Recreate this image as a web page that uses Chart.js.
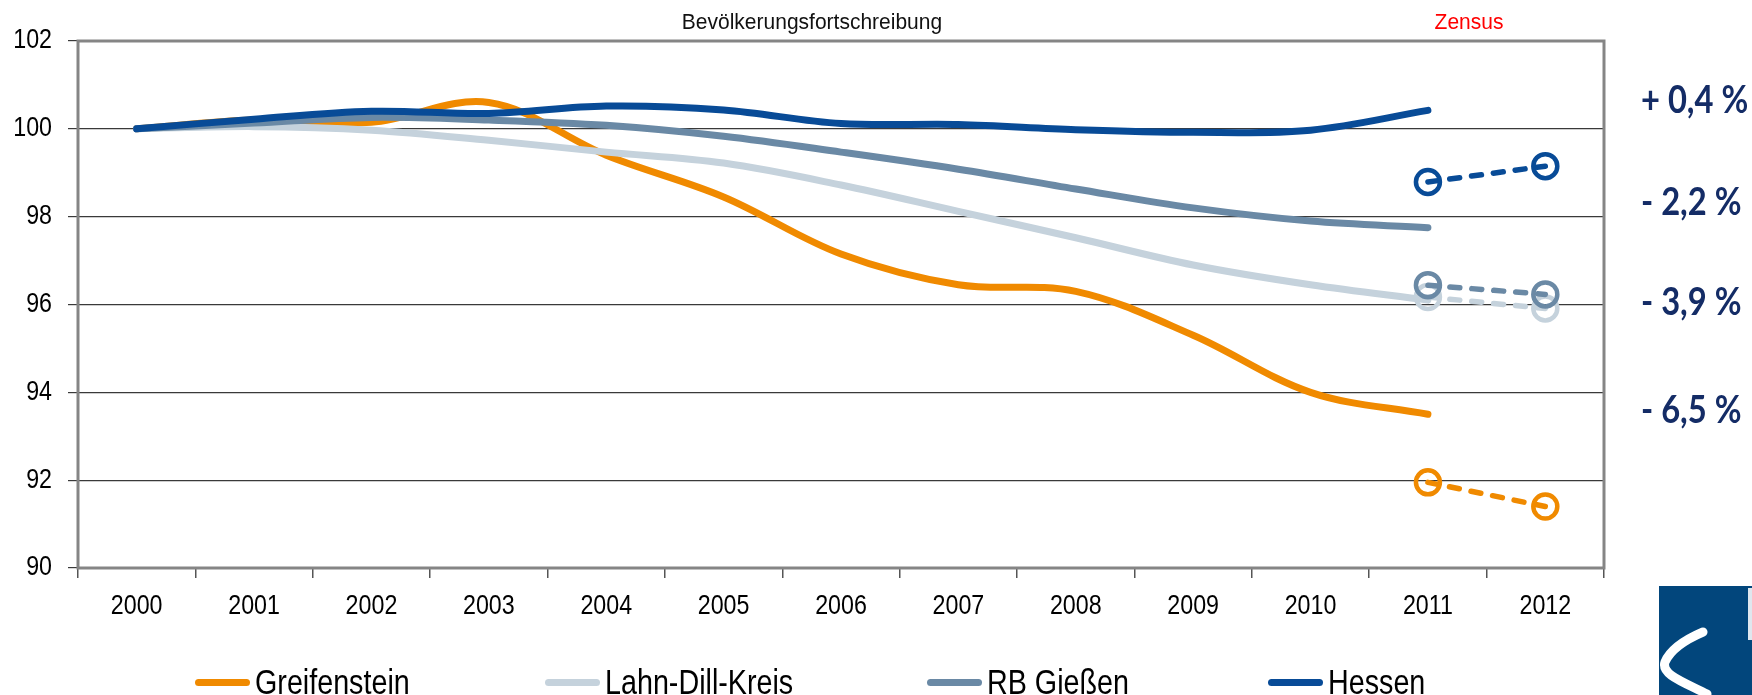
<!DOCTYPE html>
<html>
<head>
<meta charset="utf-8">
<script src="https://cdn.jsdelivr.net/npm/chart.js@4.4.1/dist/chart.umd.min.js"></script>
<style>
  html, body { margin: 0; padding: 0; background: #fff; }
  #wrap { position: relative; width: 1752px; height: 695px; overflow: hidden; font-family: 'Liberation Sans', Arial, sans-serif; }
  #chart { position: absolute; left: 0; top: 0; }
  .note { position: absolute; top: 9px; font-size: 21px; line-height: 24px; transform: translateX(-50%) scaleY(1.08); white-space: nowrap; color: #111; }
  .pct { position: absolute; left: 1641px; font-family: Lato, 'Open Sans', sans-serif; font-weight: 700; font-size: 38px; line-height: 40px; color: #142c66; white-space: nowrap; transform: scaleX(0.86); transform-origin: left center; }
  .item { position: absolute; top: 661px; display: flex; align-items: center; font-size: 35px; line-height: 42px; color: #000; white-space: nowrap; }
  .item span.txt { display: inline-block; transform: scaleX(0.82); transform-origin: left center; }
  .swatch { width: 55px; height: 7px; border-radius: 4px; margin-right: 5px; }
  #logo { position: absolute; left: 1659px; top: 586px; }
</style>
</head>
<body>
<div id="wrap">
  <canvas id="chart" width="1752" height="695"></canvas>
  <div class="note" style="left:812px">Bevölkerungsfortschreibung</div>
  <div class="note" style="left:1469px;color:#ff0000">Zensus</div>
  <div class="pct" style="top:78px">+ 0,4 %</div>
  <div class="pct" style="top:180px">- 2,2 %</div>
  <div class="pct" style="top:280px">- 3,9 %</div>
  <div class="pct" style="top:388px">- 6,5 %</div>
  <svg id="logo" width="93" height="109" viewBox="0 0 93 109">
    <rect x="0" y="0" width="93" height="109" fill="#02467c"/>
    <rect x="89" y="2" width="4" height="52" fill="#dfe7ef"/>
    <path d="M44 46 C 30 52, 12 62, 6 76 C 2 88, 22 95, 48 108" fill="none" stroke="#fff" stroke-width="9" stroke-linecap="round"/>
  </svg>
</div>
<script>
const years = ['2000', '2001', '2002', '2003', '2004', '2005', '2006', '2007', '2008', '2009', '2010', '2011', '2012'];

// Bevölkerungsfortschreibung, Index 2000 = 100
const greifenstein = [100, 100.2, 100.15, 100.6, 99.4, 98.45, 97.15, 96.45, 96.3, 95.3, 94.0, 93.5];
const lahnDill = [100, 100.05, 99.97, 99.74, 99.47, 99.22, 98.72, 98.12, 97.52, 96.9, 96.45, 96.1];
const rbGiessen = [100, 100.13, 100.26, 100.2, 100.08, 99.83, 99.47, 99.08, 98.63, 98.2, 97.9, 97.75];
const hessen = [100, 100.22, 100.4, 100.35, 100.52, 100.43, 100.12, 100.1, 99.98, 99.92, 99.97, 100.42];

// Zensus 2011 / 2012
const zensusGreifenstein = [91.95, 91.4];
const zensusLahnDill = [96.17, 95.91];
const zensusRbGiessen = [96.44, 96.23];
const zensusHessen = [98.79, 99.15];

const yTicks = [90, 92, 94, 96, 98, 100, 102];

const colors = {
    greifenstein: '#f08a00',
    lahnDill: '#c5d2dc',
    rbGiessen: '#6a89a5',
    hessen: '#084b97'
};

// left edge of each legend entry
const legendLeft = [195, 545, 927, 1268];

function zensus(values) {
    // put the two census values on 2011 and 2012
    const out = years.map(() => null);
    out[years.length - 2] = values[0];
    out[years.length - 1] = values[1];
    return out;
}

function line(label, data, color, order) {
    return {
        label: label,
        data: data,
        borderColor: color,
        borderWidth: 7,
        borderCapStyle: 'round',
        tension: 0.35,
        pointRadius: 0,
        order: order
    };
}

function dashed(data, color, order) {
    return {
        label: '',
        data: data,
        borderColor: color,
        borderWidth: 5.5,
        borderDash: [10, 12],
        borderCapStyle: 'round',
        pointRadius: 12,
        pointBorderWidth: 4.5,
        pointBorderColor: color,
        pointBackgroundColor: 'rgba(255,255,255,0)',
        order: order
    };
}

const frame = {
    id: 'frame',
    beforeDatasetsDraw(chart) {
        const a = chart.chartArea;
        const ctx = chart.ctx;
        ctx.save();
        ctx.strokeStyle = '#858585';
        ctx.lineWidth = 3;
        ctx.strokeRect(a.left, a.top, a.right - a.left, a.bottom - a.top);
        ctx.restore();
    }
};

// tick labels in a condensed Arial look (no narrow font installed)
function narrowText(ctx, text, x, y, sx) {
    ctx.save();
    ctx.translate(x, y);
    ctx.scale(sx, 1);
    ctx.fillText(text, 0, 0);
    ctx.restore();
}

const narrowLabels = {
    id: 'narrowLabels',
    afterDraw(chart) {
        const ctx = chart.ctx;
        const xs = chart.scales.x;
        const ys = chart.scales.y;
        ctx.save();
        ctx.fillStyle = '#000';
        ctx.textBaseline = 'middle';
        ctx.font = '28px "Liberation Sans", Arial, sans-serif';
        ctx.textAlign = 'center';
        xs.ticks.forEach((t, i) => {
            narrowText(ctx, xs.getLabelForValue(t.value), xs.getPixelForTick(i), xs.top + 38, 0.83);
        });
        ctx.font = '27px "Liberation Sans", Arial, sans-serif';
        ctx.textAlign = 'right';
        ys.ticks.forEach(t => {
            narrowText(ctx, String(t.value), ys.right - 26, ys.getPixelForValue(t.value), 0.86);
        });
        ctx.restore();
    }
};

const datasets = [
    line('Greifenstein', greifenstein, colors.greifenstein, 8),
    line('Lahn-Dill-Kreis', lahnDill, colors.lahnDill, 7),
    line('RB Gießen', rbGiessen, colors.rbGiessen, 6),
    line('Hessen', hessen, colors.hessen, 5),
    dashed(zensus(zensusGreifenstein), colors.greifenstein, 4),
    dashed(zensus(zensusLahnDill), colors.lahnDill, 3),
    dashed(zensus(zensusRbGiessen), colors.rbGiessen, 2),
    dashed(zensus(zensusHessen), colors.hessen, 1)
];

new Chart(document.getElementById('chart'), {
    type: 'line',
    data: { labels: years, datasets: datasets },
    options: {
        responsive: false,
        animation: false,
        events: [],
        layout: { padding: { left: 0, right: 148, top: 41, bottom: 0 } },
        plugins: {
            legend: { display: false },
            tooltip: { enabled: false }
        },
        scales: {
            x: {
                offset: true,
                grid: { display: true, drawOnChartArea: false, drawTicks: true, tickLength: 10, offset: true, color: '#555', lineWidth: 1.5 },
                border: { display: false },
                ticks: { display: false, autoSkip: false },
                afterFit: s => { s.height = 127; }
            },
            y: {
                min: 90,
                max: 102,
                afterBuildTicks: s => { s.ticks = yTicks.map(v => ({ value: v })); },
                grid: { color: '#3a3a3a', lineWidth: 1.2, tickLength: 10 },
                border: { display: false },
                ticks: { display: false },
                afterFit: s => { s.width = 78; }
            }
        }
    },
    plugins: [frame, narrowLabels]
});

// legend built from the four main series
const wrap = document.getElementById('wrap');
datasets.slice(0, 4).forEach((ds, i) => {
    const item = document.createElement('div');
    item.className = 'item';
    item.style.left = legendLeft[i] + 'px';
    const sw = document.createElement('span');
    sw.className = 'swatch';
    sw.style.background = ds.borderColor;
    const txt = document.createElement('span');
    txt.className = 'txt';
    txt.textContent = ds.label;
    item.appendChild(sw);
    item.appendChild(txt);
    wrap.appendChild(item);
});
</script>
</body>
</html>
